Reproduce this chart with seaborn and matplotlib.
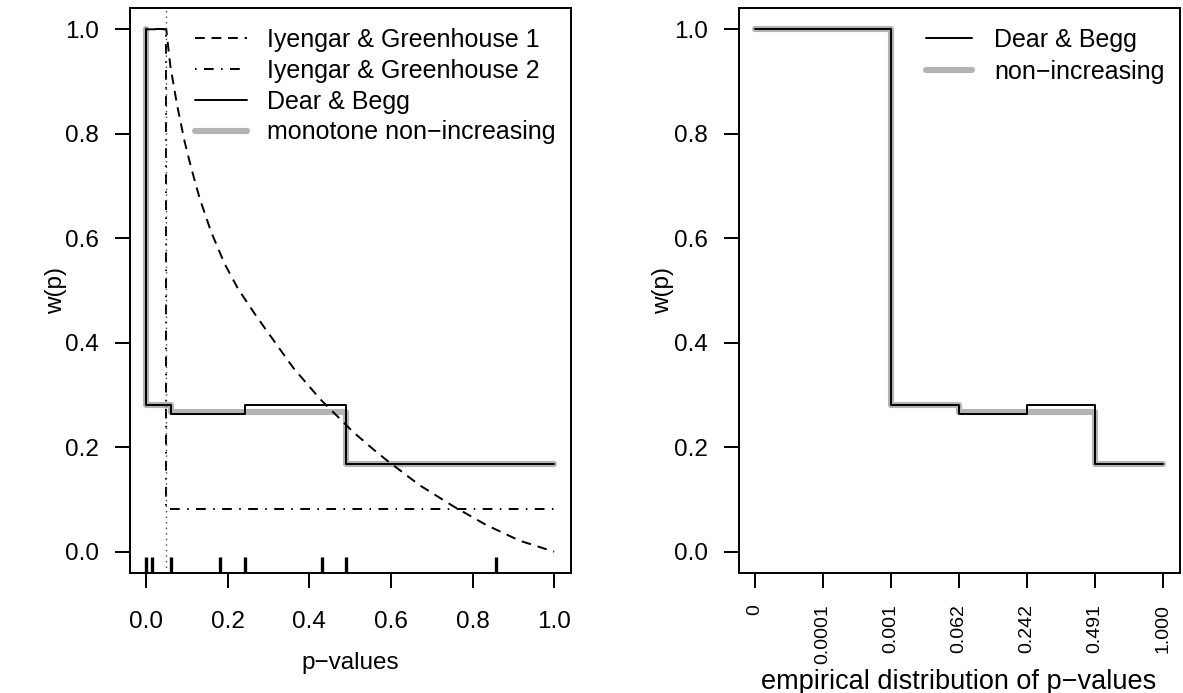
import numpy as np
import pandas as pd
import matplotlib
matplotlib.use("Agg")
import matplotlib.pyplot as plt
import seaborn as sns

# ---------------- data ----------------
pval_breaks = [0.0, 0.0001, 0.001, 0.062, 0.242, 0.491, 1.0]
break_labels = ["0", "0.0001", "0.001", "0.062", "0.242", "0.491", "1.000"]
dear_begg = [1.0, 1.0, 0.281, 0.263, 0.281, 0.168]
monotone = [1.0, 1.0, 0.281, 0.267, 0.267, 0.168]

ig1_p = [0.0, 0.05, 0.06, 0.077, 0.095, 0.111, 0.132, 0.160, 0.193, 0.226,
         0.267, 0.296, 0.361, 0.427, 0.508, 0.557, 0.590, 0.671, 0.753,
         0.834, 0.916, 1.0]
ig1_w = [1.0, 1.0, 0.93, 0.853, 0.785, 0.735, 0.676, 0.612, 0.551, 0.503,
         0.455, 0.423, 0.352, 0.292, 0.229, 0.196, 0.175, 0.127, 0.087,
         0.051, 0.021, 0.0]

ig2_p = [0.0, 0.05, 0.05, 1.0]
ig2_w = [1.0, 1.0, 0.081, 0.081]

alpha_cut = 0.05
observed_p = [0.0001, 0.016, 0.062, 0.181, 0.242, 0.431, 0.491, 0.857]

legend_left = ["Iyengar & Greenhouse 1", "Iyengar & Greenhouse 2",
               "Dear & Begg", "monotone non\u2212increasing"]
legend_right = ["Dear & Begg", "non\u2212increasing"]
y_ticks = [0.0, 0.2, 0.4, 0.6, 0.8, 1.0]

# ---------------- style ----------------
sns.set_theme(style="ticks")
plt.rcParams["font.family"] = ["Liberation Sans", "DejaVu Sans"]
FS = 17.5
LEG_FS = 18
plt.rcParams.update({
    "font.size": FS,
    "axes.linewidth": 1.4,
    "axes.edgecolor": "black",
    "xtick.color": "black",
    "ytick.color": "black",
    "axes.labelcolor": "black",
    "text.color": "black",
})
GRAY = "#B3B3B3"
LW = 1.4
GLW = 4.4

fig = plt.figure(figsize=(11.83, 6.93), dpi=100)
W, H = 1183, 693
axL = fig.add_axes([129.5 / W, 1 - 572.6 / H, 441 / W, 564.2 / H])
axR = fig.add_axes([738.6 / W, 1 - 572.6 / H, 441 / W, 564.2 / H])


def step_frame(xs, vals):
    return pd.DataFrame({"x": list(xs), "y": list(vals) + [vals[-1]]})


# ---------------- left panel ----------------
dfm = step_frame(pval_breaks, monotone)
dfd = step_frame(pval_breaks, dear_begg)
sns.lineplot(data=dfm, x="x", y="y", ax=axL, estimator=None, sort=False,
             drawstyle="steps-post", color=GRAY, linewidth=GLW,
             solid_capstyle="round", solid_joinstyle="round", label=legend_left[3])
sns.lineplot(data=dfd, x="x", y="y", ax=axL, estimator=None, sort=False,
             drawstyle="steps-post", color="black", linewidth=LW,
             label=legend_left[2])
sns.lineplot(x=ig1_p, y=ig1_w, ax=axL, estimator=None, sort=False,
             color="black", linewidth=LW, label=legend_left[0])
sns.lineplot(x=ig2_p, y=ig2_w, ax=axL, estimator=None, sort=False,
             color="black", linewidth=LW, label=legend_left[1])
lines = {l.get_label(): l for l in axL.get_lines()}
lines[legend_left[0]].set_dashes([5, 3.5])
lines[legend_left[0]].set_dash_capstyle("butt")
lines[legend_left[1]].set_dashes([0.8, 3.8, 5, 3.8])
lines[legend_left[1]].set_dash_capstyle("butt")
axL.axvline(alpha_cut, color="#444444", linewidth=1.0, linestyle=(0, (1, 3)))
sns.rugplot(x=observed_p, ax=axL, height=0.027, color="black", linewidth=2.4,
            expand_margins=False)

axL.set_xlim(-0.04, 1.04)
axL.set_ylim(-0.04, 1.04)
axL.set_xticks([0.0, 0.2, 0.4, 0.6, 0.8, 1.0])
axL.set_xticklabels(["0.0", "0.2", "0.4", "0.6", "0.8", "1.0"])
axL.set_yticks(y_ticks)
axL.set_yticklabels([f"{v:.1f}" for v in y_ticks])
axL.set_xlabel("p\u2212values", fontsize=FS)
axL.set_ylabel("w(p)", fontsize=FS)
axL.xaxis.set_label_coords(0.5, (572.6 - 652) / 564.2)
axL.yaxis.set_label_coords((67 - 129.5) / 441, 0.5)

hL = [lines[k] for k in legend_left]
axL.legend(hL, legend_left, loc="upper left", bbox_to_anchor=(0.148, 0.965),
           frameon=False, fontsize=LEG_FS, handlelength=2.08, handletextpad=0.8,
           labelspacing=0.27, borderpad=0, borderaxespad=0)

# ---------------- right panel ----------------
idx = list(range(len(pval_breaks)))
dfm2 = step_frame(idx, monotone)
dfd2 = step_frame(idx, dear_begg)
sns.lineplot(data=dfm2, x="x", y="y", ax=axR, estimator=None, sort=False,
             drawstyle="steps-post", color=GRAY, linewidth=GLW,
             solid_capstyle="round", solid_joinstyle="round", label=legend_right[1])
sns.lineplot(data=dfd2, x="x", y="y", ax=axR, estimator=None, sort=False,
             drawstyle="steps-post", color="black", linewidth=LW,
             label=legend_right[0])
linesR = {l.get_label(): l for l in axR.get_lines()}
axR.set_xlim(-0.24, 6.24)
axR.set_ylim(-0.04, 1.04)
axR.set_xticks(idx)
axR.set_xticklabels(break_labels, rotation=90, fontsize=14)
axR.set_yticks(y_ticks)
axR.set_yticklabels([f"{v:.1f}" for v in y_ticks])
axR.set_xlabel("empirical distribution of p\u2212values", fontsize=19.5)
axR.set_ylabel("w(p)", fontsize=FS)
axR.xaxis.set_label_coords(0.5, (572.6 - 669) / 564.2)
axR.yaxis.set_label_coords((674 - 738.6) / 441, 0.5)
axR.legend([linesR[k] for k in legend_right], legend_right, loc="upper left",
           bbox_to_anchor=(0.425, 0.965), frameon=False, fontsize=LEG_FS,
           handlelength=1.84, handletextpad=0.88, labelspacing=0.3,
           borderpad=0, borderaxespad=0)

for ax in (axL, axR):
    for s in ax.spines.values():
        s.set_visible(True)
        s.set_linewidth(LW)
        s.set_color("black")
    ax.tick_params(direction="out", length=11, width=LW, pad=11)
axL.tick_params(axis="x", labelsize=FS, pad=16.5)
axL.tick_params(axis="y", labelsize=FS)
axR.tick_params(axis="y", labelsize=FS)
axR.tick_params(axis="x", pad=11.5)

fig.savefig("out.png", dpi=100)
